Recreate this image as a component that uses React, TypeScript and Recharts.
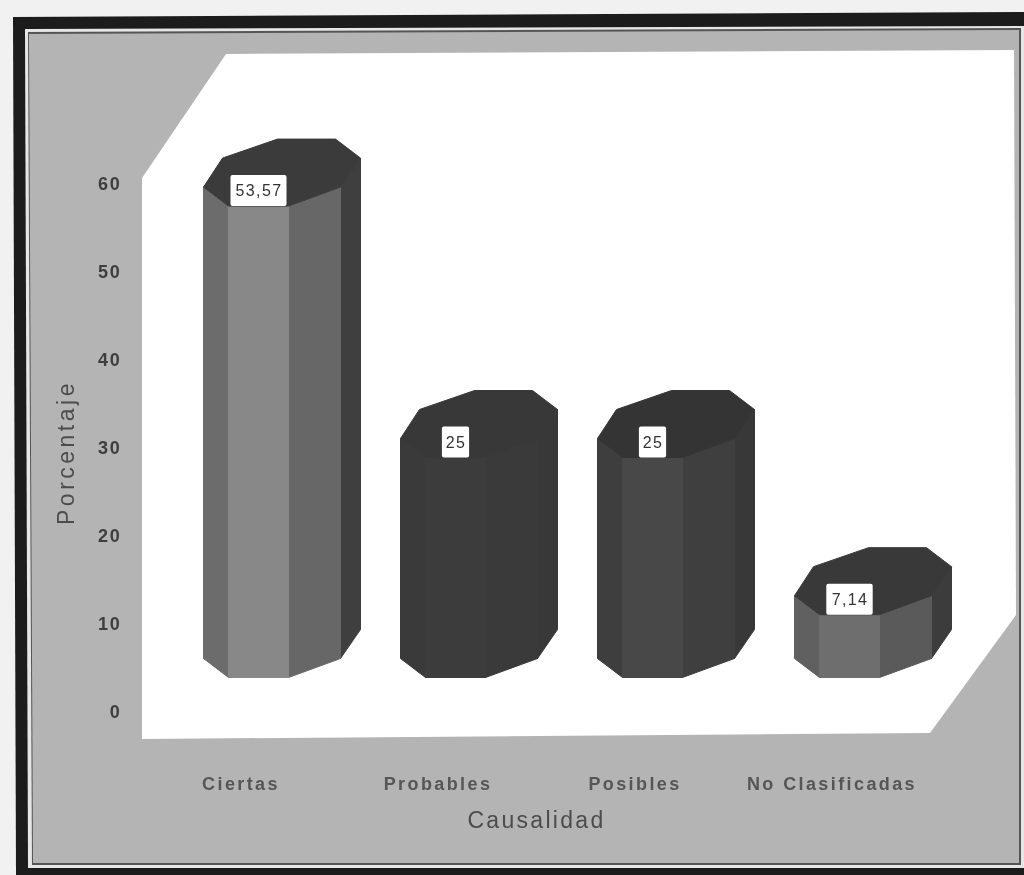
import React from "react";
import { BarChart, Bar, XAxis, YAxis, LabelList } from "recharts";

const categories = ["Ciertas", "Probables", "Posibles", "No Clasificadas"];
const percentages = [53.57, 25, 25, 7.14];
const yTicks = [0, 10, 20, 30, 40, 50, 60];

const rows = categories.map((name, i) => ({ name, value: percentages[i] }));

// Shades for each column: left, centre, right, far side, top.
const faceShades = [
  ["#6c6c6c", "#888888", "#676767", "#3f3f3f", "#3b3b3b"],
  ["#3a3a3a", "#3c3c3c", "#3a3a3a", "#383838", "#383838"],
  ["#3e3e3e", "#484848", "#3f3f3f", "#383838", "#343434"],
  ["#606060", "#6e6e6e", "#5a5a5a", "#3c3c3c", "#393939"],
];

// Octagonal section of a column, measured from its left edge and rear edge.
const section: [number, number][] = [
  [0, 48], [25, 67], [85, 67], [137, 48], [157, 19], [132, 0], [74, 0], [19, 19],
];
const SECTION_DEPTH = 67;
const LIFT = 34.5;

const toPoints = (pts: [number, number][]) => pts.map((p) => p.join(",")).join(" ");

function Prism(props: any) {
  const { x, y, height, index } = props;
  const shades = faceShades[index];
  const top = y - LIFT - SECTION_DEPTH;
  const at = (i: number, drop = 0): [number, number] => [
    x + section[i][0],
    top + section[i][1] + drop,
  ];
  const side = (a: number, b: number) =>
    toPoints([at(a), at(b), at(b, height), at(a, height)]);
  const face = (points: string, shade: string) => (
    <polygon points={points} fill={shade} stroke={shade} strokeWidth={1} strokeLinejoin="round" />
  );
  return (
    <g>
      {face(side(3, 4), shades[3])}
      {face(side(0, 1), shades[0])}
      {face(side(2, 3), shades[2])}
      {face(side(1, 2), shades[1])}
      {face(toPoints(section.map((_, i) => at(i))), shades[4])}
    </g>
  );
}

function ValueTag(props: any) {
  const { x, y, value } = props;
  const text = String(value).replace(".", ",");
  const w = text.length * 9.6 + 8;
  const h = 31;
  const cx = x + 55;
  const bottom = y - LIFT;
  return (
    <g>
      <rect x={cx - w / 2} y={bottom - h} width={w} height={h} rx={2} fill="#ffffff" />
      <text
        x={cx + 0.5}
        y={bottom - h / 2 + 5.5}
        textAnchor="middle"
        fontFamily="Liberation Sans"
        fontSize={16}
        letterSpacing={1.4}
        fill="#333333"
      >
        {text}
      </text>
    </g>
  );
}

function Backdrop() {
  return (
    <svg
      width={1024}
      height={875}
      style={{ position: "absolute", left: 0, top: 0 }}
    >
      <rect x={0} y={0} width={1024} height={875} fill="#f1f1f1" />
      <polygon points="13,17 1024,12 1024,875 16,875" fill="#1c1c1c" />
      <polygon points="25,29 1024,26 1024,868 28,868" fill="#e6e6e6" />
      <polygon points="28,32 1021,28 1021,865 32,865" fill="#555555" />
      <polygon points="29,34 1019,30 1019,863 33,863" fill="#b4b4b4" />
      <polygon
        points="142,178 226,54 1014,50 1016,615 930,733 142,739"
        fill="#ffffff"
      />
    </svg>
  );
}

export default function App() {
  return (
    <div
      style={{
        position: "absolute",
        left: 0,
        top: 0,
        width: 1024,
        height: 875,
        filter: "blur(0.7px)",
      }}
    >
      <Backdrop />
      <div style={{ position: "absolute", left: 0, top: 0 }}>
        <BarChart
          width={1024}
          height={875}
          data={rows}
          barCategoryGap={0}
          barSize={76}
          margin={{ top: 184, right: 93.5, bottom: 5, left: 32.5 }}
        >
          <XAxis
            dataKey="name"
            interval={0}
            height={158}
            axisLine={false}
            tickLine={false}
            tickSize={0}
            tickMargin={65}
            tick={{
              fontFamily: "Liberation Sans",
              fontSize: 18,
              fontWeight: 700,
              fill: "#565656",
              letterSpacing: 2.4,
            }}
            label={{
              value: "Causalidad",
              position: "insideBottom",
              offset: 42,
              style: {
                fontFamily: "Liberation Sans",
                fontSize: 23,
                fill: "#4c4c4c",
                letterSpacing: 2.3,
              },
            }}
          />
          <YAxis
            type="number"
            domain={[0, 60]}
            ticks={yTicks}
            width={110}
            axisLine={false}
            tickLine={false}
            tickSize={0}
            tickMargin={21}
            tick={{
              fontFamily: "Liberation Sans",
              fontSize: 18,
              fontWeight: 700,
              fill: "#3e3e3e",
              letterSpacing: 1.8,
            }}
            label={{
              value: "Porcentaje",
              angle: -90,
              position: "insideLeft",
              offset: 33,
              dy: 77,
              style: {
                fontFamily: "Liberation Sans",
                fontSize: 23,
                fill: "#4c4c4c",
                letterSpacing: 3.5,
              },
            }}
          />
          <Bar dataKey="value" isAnimationActive={false} shape={<Prism />}>
            <LabelList dataKey="value" content={<ValueTag />} />
          </Bar>
        </BarChart>
      </div>
    </div>
  );
}
